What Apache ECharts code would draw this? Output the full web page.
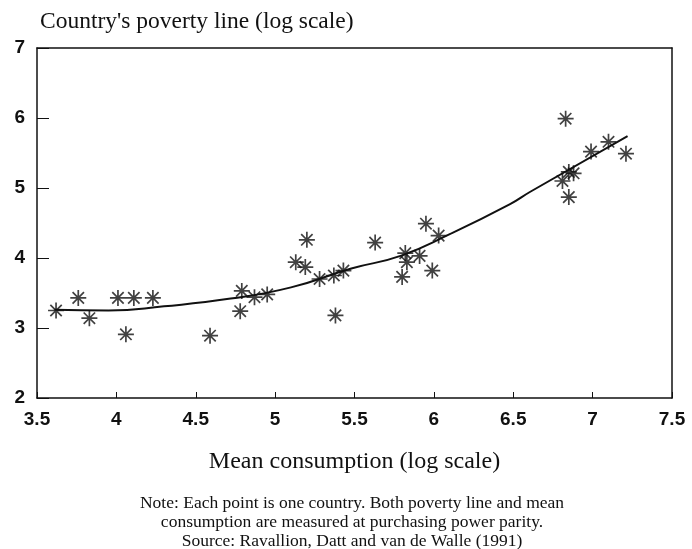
<!DOCTYPE html>
<html>
<head>
<meta charset="utf-8">
<script src="https://cdn.jsdelivr.net/npm/echarts@6/dist/echarts.min.js"></script>
<style>
  html, body { margin: 0; padding: 0; background: #fff; }
  #chart { width: 692px; height: 549px; }
</style>
</head>
<body>
<div id="chart"></div>
<script>
// log mean consumption (x) and log poverty line (y), one point per country
var consumption = [3.62, 3.76, 3.83, 4.01, 4.06, 4.11, 4.23, 4.59, 4.79, 4.78, 4.87, 4.95,
  5.13, 5.19, 5.20, 5.28, 5.37, 5.38, 5.43, 5.63, 5.80, 5.82, 5.83, 5.91, 5.95, 5.99, 6.03,
  6.83, 6.81, 6.85, 6.88, 6.85, 6.99, 7.10, 7.21]
var povertyLine = [3.25, 3.43, 3.14, 3.43, 2.91, 3.43, 3.43, 2.89, 3.53, 3.24, 3.44, 3.48,
  3.94, 3.87, 4.26, 3.70, 3.75, 3.18, 3.82, 4.22, 3.73, 4.07, 3.94, 4.03, 4.49, 3.82, 4.32,
  5.99, 5.10, 5.23, 5.21, 4.87, 5.52, 5.66, 5.49]

// fitted curve
var fitX = [3.61, 3.95, 4.30, 4.72, 5.10, 5.48, 5.79, 6.10, 6.48, 6.61, 7.22]
var fitY = [3.26, 3.25, 3.31, 3.42, 3.58, 3.85, 4.03, 4.34, 4.77, 4.95, 5.74]

var xTicks = [3.5, 4, 4.5, 5, 5.5, 6, 6.5, 7, 7.5]
var yTicks = [2, 3, 4, 5, 6, 7]

var chart = echarts.init(document.getElementById('chart'))

var star = 'path://M0,-8L0,8M-8,0L8,0M-5.7,-5.7L5.7,5.7M-5.7,5.7L5.7,-5.7'
var tickFont = { fontFamily: 'Liberation Sans', fontWeight: 'bold', fontSize: 19, color: '#111' }

chart.setOption({
  animation: false,
  grid: { left: 37, right: 20, top: 48, bottom: 151 },
  title: [{
    text: "Country's poverty line (log scale)",
    left: 35,
    top: 5,
    textStyle: { fontFamily: 'Liberation Serif', fontWeight: 'normal', fontSize: 23.5, color: '#111' }
  }, {
    text: 'Note: Each point is one country. Both poverty line and mean\nconsumption are measured at purchasing power parity.\nSource: Ravallion, Datt and van de Walle (1991)',
    left: 347,
    top: 489,
    textAlign: 'center',
    textStyle: { fontFamily: 'Liberation Serif', fontWeight: 'normal', fontSize: 17.5, lineHeight: 19, color: '#111', align: 'center' }
  }],
  xAxis: [{
    type: 'value',
    min: xTicks[0],
    max: xTicks[xTicks.length - 1],
    interval: 0.5,
    name: 'Mean consumption (log scale)',
    nameLocation: 'middle',
    nameGap: 52,
    nameTextStyle: { fontFamily: 'Liberation Serif', fontSize: 24, color: '#111' },
    axisLine: { lineStyle: { color: '#111', width: 1.5 } },
    axisTick: { inside: true, length: 6, lineStyle: { color: '#111' } },
    axisLabel: Object.assign({ margin: 12 }, tickFont),
    splitLine: { show: false }
  }, {
    type: 'value',
    position: 'top',
    min: xTicks[0],
    max: xTicks[xTicks.length - 1],
    axisLine: { show: true, lineStyle: { color: '#111', width: 1.5 } },
    axisTick: { show: false },
    axisLabel: { show: false },
    splitLine: { show: false }
  }],
  yAxis: [{
    type: 'value',
    min: yTicks[0],
    max: yTicks[yTicks.length - 1],
    interval: 1,
    axisLine: { show: true, lineStyle: { color: '#111', width: 1.5 } },
    axisTick: { show: true, inside: true, length: 12, lineStyle: { color: '#111' } },
    axisLabel: Object.assign({ margin: 12 }, tickFont),
    splitLine: { show: false }
  }, {
    type: 'value',
    position: 'right',
    min: yTicks[0],
    max: yTicks[yTicks.length - 1],
    axisLine: { show: true, lineStyle: { color: '#111', width: 1.5 } },
    axisTick: { show: false },
    axisLabel: { show: false },
    splitLine: { show: false }
  }],
  series: [{
    type: 'line',
    data: fitX.map(function (x, i) { return [x, fitY[i]] }),
    smooth: true,
    showSymbol: false,
    lineStyle: { color: '#111', width: 2 }
  }, {
    type: 'scatter',
    data: consumption.map(function (x, i) { return [x, povertyLine[i]] }),
    symbol: star,
    symbolSize: 16,
    itemStyle: { color: 'none', borderColor: '#111', borderWidth: 1.7 }
  }]
})
</script>
</body>
</html>
